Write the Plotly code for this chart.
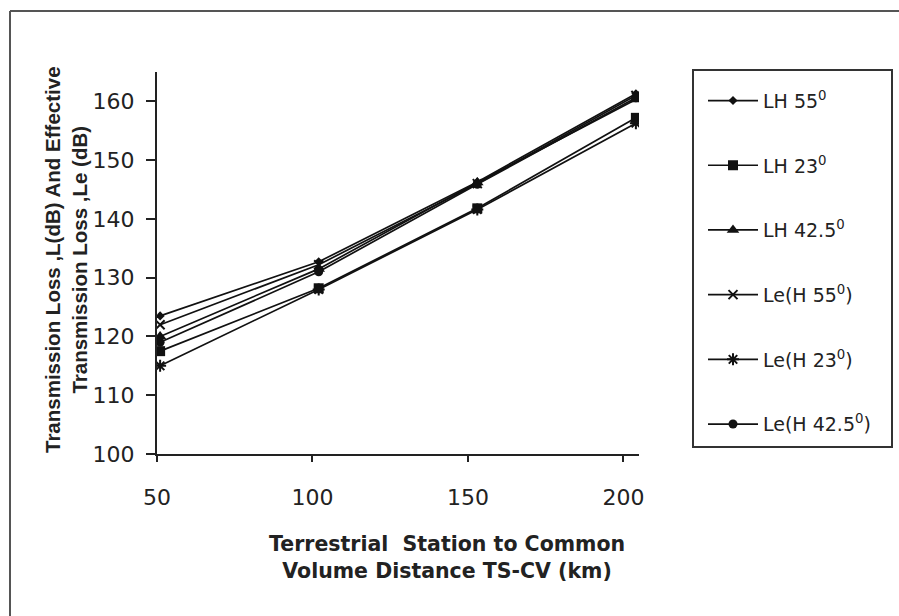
import plotly.graph_objects as go

# Distance from terrestrial station to common volume (km)
distance_km = [51, 102, 153, 204]

# Transmission loss L and effective transmission loss Le (dB)
lh_55 = [123.5, 132.7, 146.3, 161.3]
lh_23 = [117.5, 128.2, 141.8, 157.2]
lh_42_5 = [120.0, 131.5, 146.2, 160.3]
le_h_55 = [122.0, 132.2, 146.0, 161.0]
le_h_23 = [115.0, 128.0, 141.6, 156.3]
le_h_42_5 = [119.0, 131.0, 145.9, 160.6]

series_names = [
    "LH 55<sup>0</sup>",
    "LH 23<sup>0</sup>",
    "LH 42.5<sup>0</sup>",
    "Le(H 55<sup>0</sup>)",
    "Le(H 23<sup>0</sup>)",
    "Le(H 42.5<sup>0</sup>)",
]
series_values = [lh_55, lh_23, lh_42_5, le_h_55, le_h_23, le_h_42_5]

x_ticks = [50, 100, 150, 200]
y_ticks = [100, 110, 120, 130, 140, 150, 160]

# marker styles per series
markers = [
    dict(symbol="diamond", size=7),
    dict(symbol="square", size=10),
    dict(symbol="triangle-up", size=11),
    dict(symbol="x-thin", size=9, line=dict(width=2, color="#111")),
    dict(symbol="asterisk", size=10, line=dict(width=2, color="#111")),
    dict(symbol="circle", size=9),
]

W, H = 899, 616
L, R, T, B = 157, 260, 72, 162
plot_w = W - L - R
plot_h = H - T - B


def px_x(px):
    return (px - L) / plot_w


def px_y(py):
    return (H - B - py) / plot_h


tick_font = dict(family="DejaVu Sans, Arial, sans-serif", size=22, color="#222")

fig = go.Figure()
for i, (name, vals, mk) in enumerate(zip(series_names, series_values, markers)):
    fig.add_trace(
        go.Scatter(
            x=distance_km,
            y=vals,
            name=name,
            mode="lines+markers",
            line=dict(color="#111", width=1.7),
            marker=dict(color="#111", **mk),
            legendgroup=f"g{i}",
        )
    )

fig.update_layout(
    width=W,
    height=H,
    margin=dict(l=L, r=R, t=T, b=B),
    paper_bgcolor="white",
    plot_bgcolor="white",
    showlegend=True,
    legend=dict(
        x=px_x(703),
        y=px_y(70),
        xanchor="left",
        yanchor="top",
        borderwidth=0,
        bgcolor="rgba(0,0,0,0)",
        font=dict(family="DejaVu Sans, Arial, sans-serif", size=19, color="#222"),
        tracegroupgap=37,
        itemwidth=50,
        maxheight=560,
        title=dict(text=" ", font=dict(size=9)),
    ),
    xaxis=dict(
        range=[50, 205],
        tickvals=x_ticks,
        showgrid=False,
        zeroline=False,
        showline=True,
        linecolor="#222",
        linewidth=2,
        ticks="outside",
        ticklen=6,
        tickwidth=1.5,
        tickcolor="#222",
        tickfont=tick_font,
        ticklabelstandoff=17,
    ),
    yaxis=dict(
        range=[100, 165],
        tickvals=y_ticks,
        showgrid=False,
        zeroline=False,
        showline=True,
        linecolor="#222",
        linewidth=2,
        ticks="outside",
        ticklen=9,
        tickwidth=1.5,
        tickcolor="#222",
        tickfont=tick_font,
        ticklabelstandoff=7,
    ),
)

# axis titles
fig.add_annotation(
    text="Transmission Loss ,L(dB) And Effective<br>Transmission Loss ,Le (dB)",
    x=px_x(66),
    y=px_y(260),
    xref="paper",
    yref="paper",
    xanchor="center",
    yanchor="middle",
    textangle=-90,
    showarrow=False,
    font=dict(family="Liberation Sans, Arial, sans-serif", size=20.5, color="#222", weight="bold"),
)
fig.add_annotation(
    text="Terrestrial  Station to Common<br>Volume Distance TS-CV (km)",
    x=px_x(447),
    y=px_y(557),
    xref="paper",
    yref="paper",
    xanchor="center",
    yanchor="middle",
    showarrow=False,
    font=dict(family="DejaVu Sans, Arial, sans-serif", size=20.5, color="#222", weight="bold"),
)

# legend box outline
fig.add_shape(type="rect", xref="paper", yref="paper",
              x0=px_x(693), y0=px_y(70), x1=px_x(892), y1=px_y(447),
              line=dict(color="#333", width=2), fillcolor="rgba(0,0,0,0)", layer="above")

# outer frame (left and top edges)
frame = dict(color="#555", width=2)
fig.add_shape(type="line", xref="paper", yref="paper",
              x0=px_x(10), y0=px_y(11), x1=px_x(899), y1=px_y(11), line=frame)
fig.add_shape(type="line", xref="paper", yref="paper",
              x0=px_x(10), y0=px_y(11), x1=px_x(10), y1=px_y(616), line=frame)

fig.write_html("out.html")
